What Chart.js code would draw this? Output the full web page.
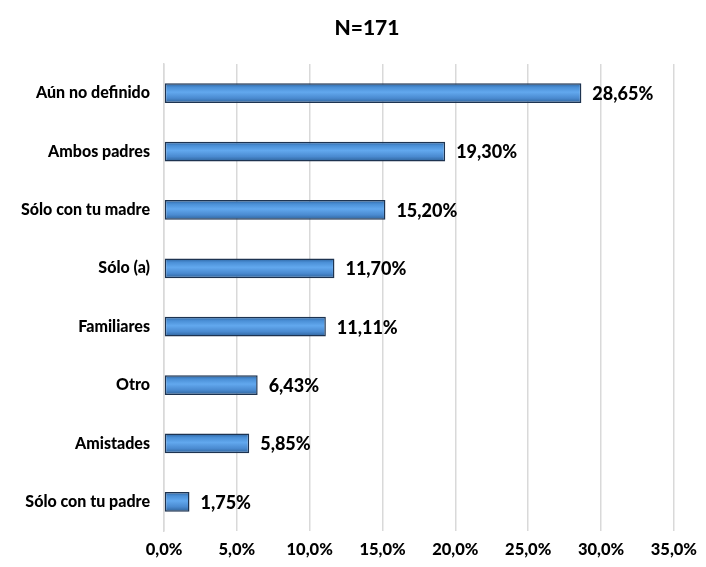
<!DOCTYPE html>
<html>
<head>
<meta charset="utf-8">
<script src="https://cdn.jsdelivr.net/npm/chart.js@4"></script>
<style>
  html, body { margin: 0; padding: 0; background: #fff; }
  #wrap { width: 706px; height: 567px; }
</style>
</head>
<body>
<div id="wrap"><canvas id="chart"></canvas></div>
<script>
// --- DATA ---
const categories = ['Aún no definido', 'Ambos padres', 'Sólo con tu madre', 'Sólo (a)', 'Familiares', 'Otro', 'Amistades', 'Sólo con tu padre'];
const values = [28.65, 19.30, 15.20, 11.70, 11.11, 6.43, 5.85, 1.75];
const xTicks = [0, 5, 10, 15, 20, 25, 30, 35];
const chartTitle = 'N=171';

const FONT = 'Lato, "Liberation Sans", sans-serif';

// gradient per bar so each one looks bevelled like the original
function barFill(ctx) {
    const chart = ctx.chart;
    if (!chart.chartArea || !chart.scales.y) return '#4a8fd8';
    const y = chart.scales.y.getPixelForValue(ctx.dataIndex);
    const g = chart.ctx.createLinearGradient(0, y - 10, 0, y + 10);
    g.addColorStop(0, '#2a5f9a');
    g.addColorStop(0.2, '#4a8fd6');
    g.addColorStop(0.45, '#62a8ee');
    g.addColorStop(0.75, '#4a8ad0');
    g.addColorStop(1, '#2c5f96');
    return g;
}

// title + value labels drawn by hand to keep them where the original has them
const textBits = {
    id: 'textBits',
    afterDatasetsDraw(chart) {
        const c = chart.ctx;
        const meta = chart.getDatasetMeta(0);
        c.save();
        c.fillStyle = '#000';
        c.textBaseline = 'middle';
        c.font = '900 21px ' + FONT;
        c.textAlign = 'center';
        c.fillText(chartTitle, 367, 28);
        c.font = '900 18px ' + FONT;
        c.textAlign = 'left';
        meta.data.forEach((bar, i) => {
            const txt = values[i].toFixed(2).replace('.', ',') + '%';
            c.fillText(txt, bar.x + 11, bar.y + 1);
        });
        c.restore();
    }
};

new Chart(document.getElementById('chart'), {
    type: 'bar',
    data: {
        labels: categories,
        datasets: [{
            data: values,
            backgroundColor: barFill,
            borderColor: '#1d3350',
            borderWidth: 1.5,
            borderSkipped: false,
            barPercentage: 0.34,
            categoryPercentage: 1
        }]
    },
    options: {
        indexAxis: 'y',
        responsive: true,
        maintainAspectRatio: false,
        animation: false,
        layout: { padding: { left: 0, right: 29, top: 64, bottom: 0 } },
        plugins: {
            legend: { display: false },
            tooltip: { enabled: false },
            title: { display: false }
        },
        scales: {
            x: {
                min: 0,
                max: 35,
                afterBuildTicks(axis) { axis.ticks = xTicks.map(v => ({ value: v })); },
                afterFit(axis) { axis.height = 36; },
                grid: { color: '#d9d9d9', lineWidth: 1.5, drawTicks: false },
                border: { display: false },
                ticks: {
                    color: '#000',
                    padding: 9,
                    font: { family: FONT, size: 16.5, weight: '900' },
                    callback: v => v.toFixed(1).replace('.', ',') + '%'
                }
            },
            y: {
                afterFit(axis) { axis.width = 164; },
                grid: { display: false, drawTicks: false },
                border: { display: true, color: '#d9d9d9', width: 1.5 },
                ticks: {
                    color: '#000',
                    padding: 14,
                    font: { family: FONT, size: 16, weight: '900' }
                }
            }
        }
    },
    plugins: [textBits]
});
</script>
</body>
</html>
